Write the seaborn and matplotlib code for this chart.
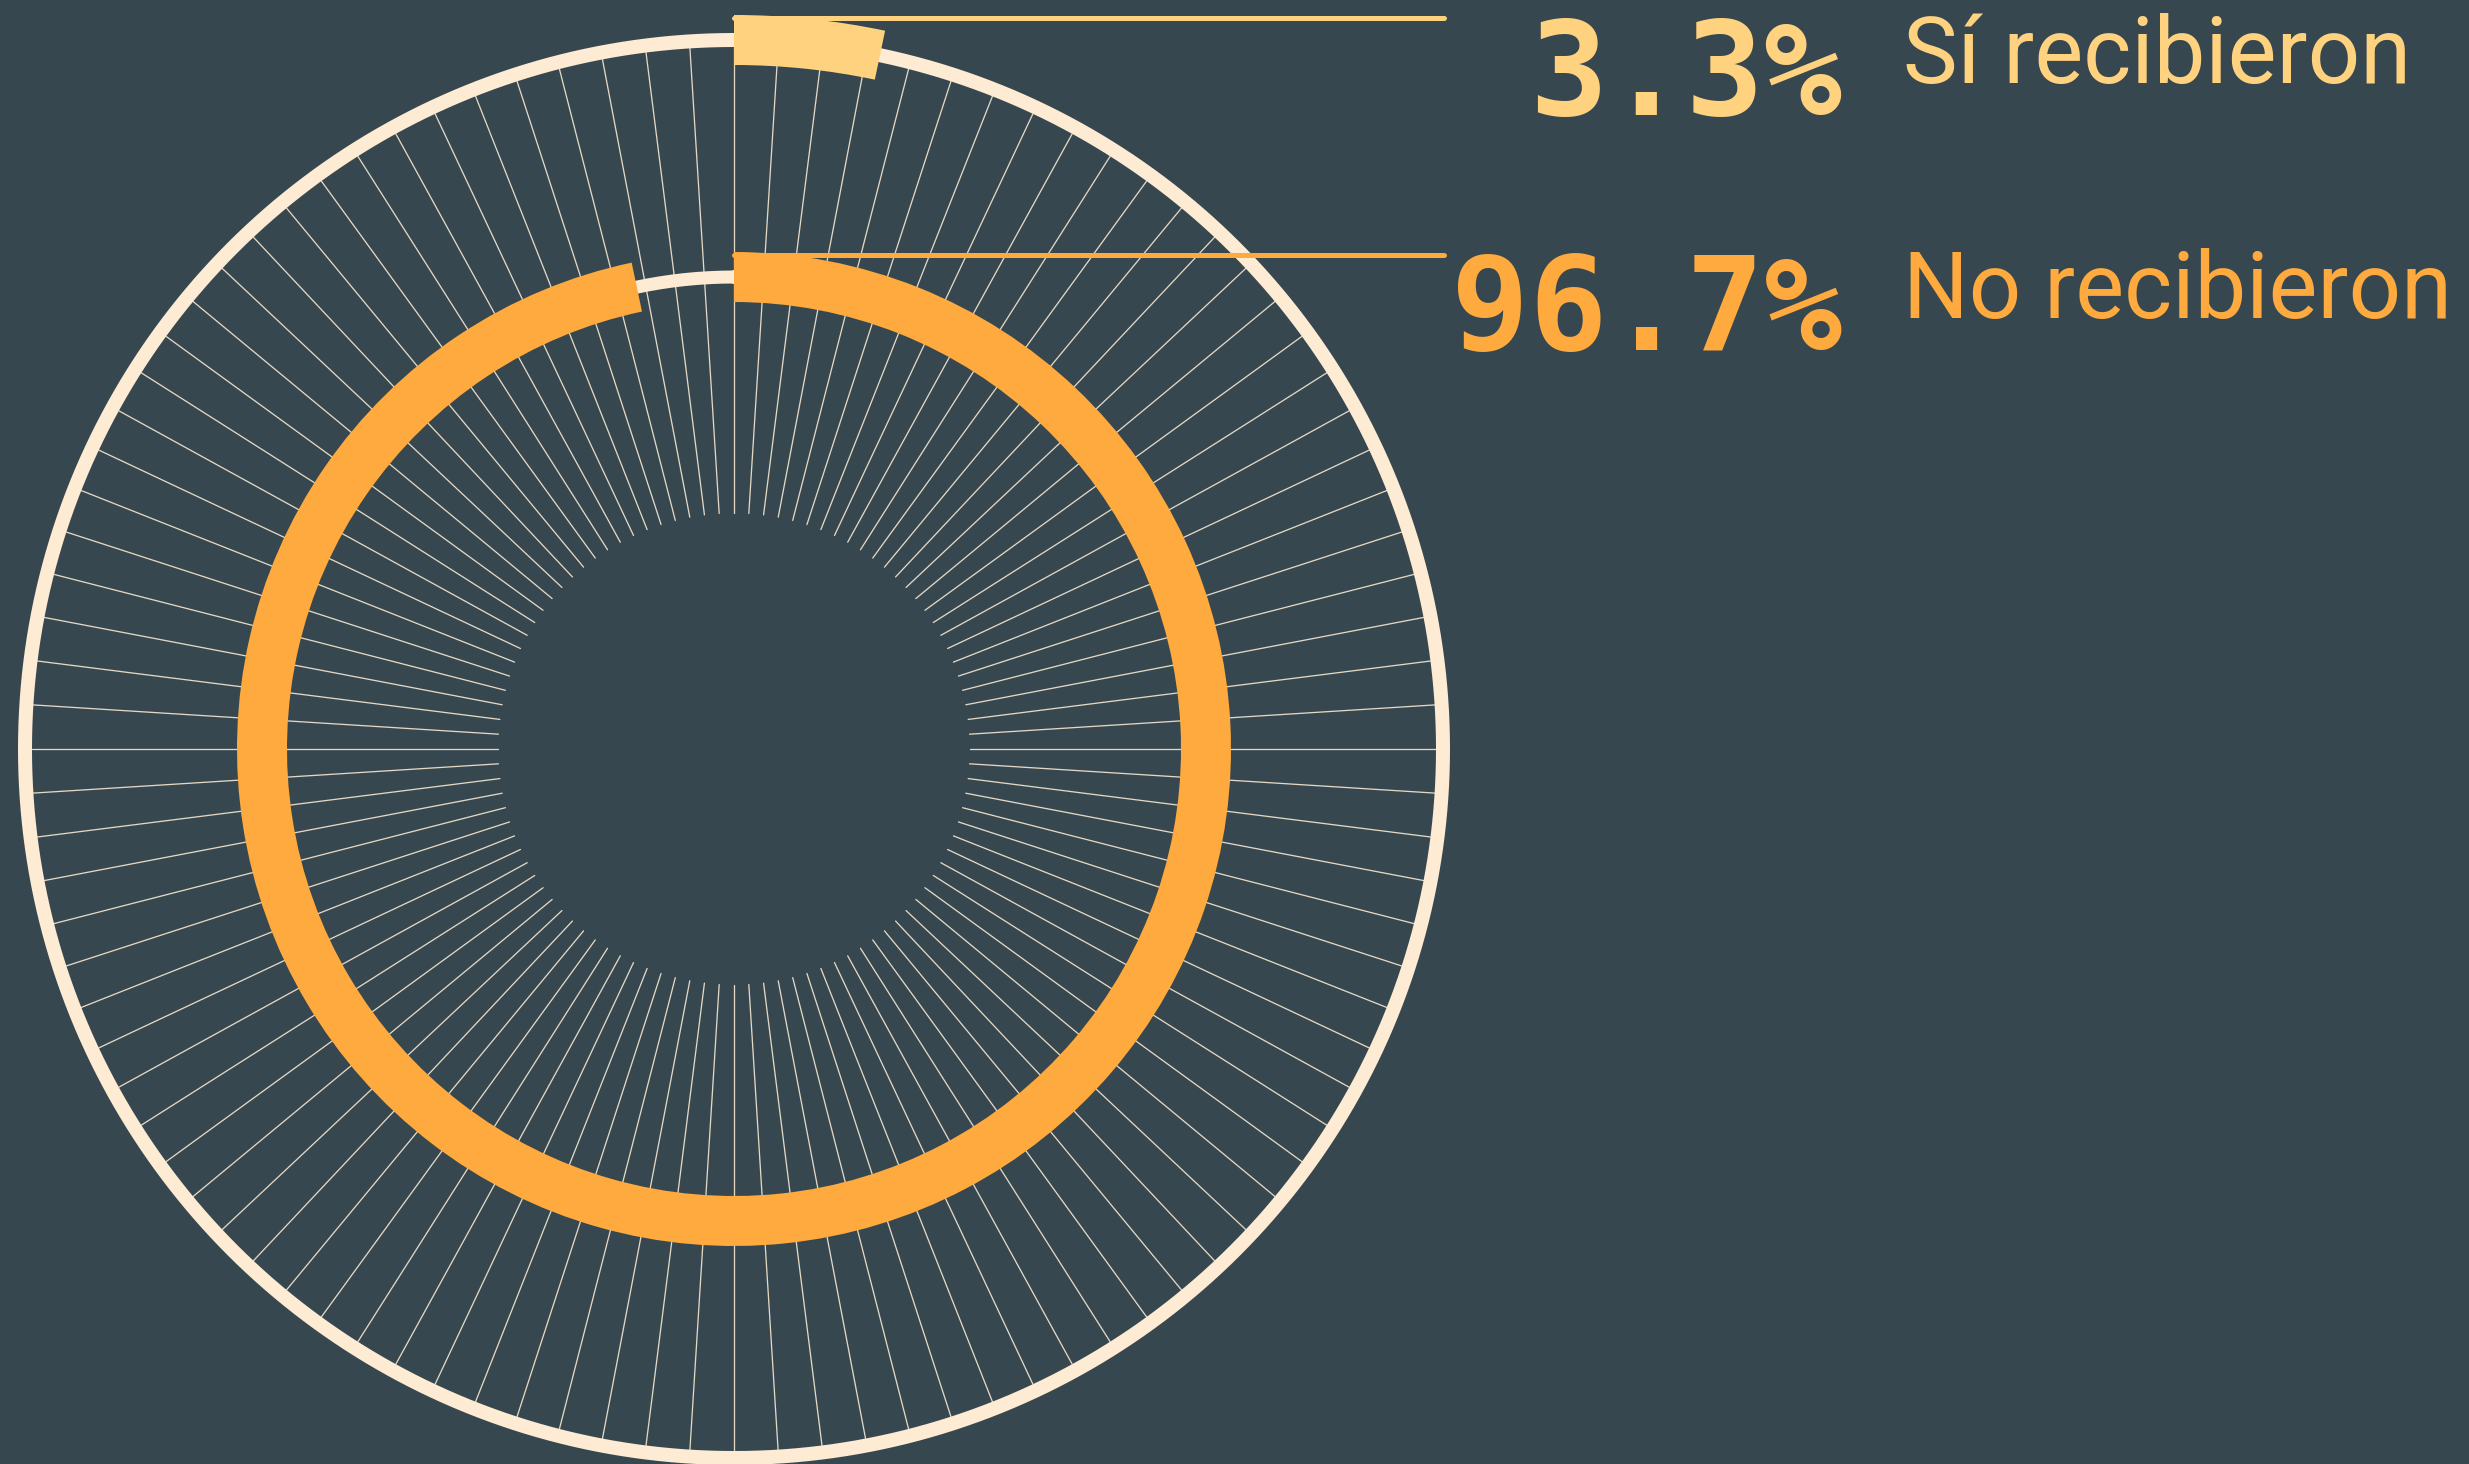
import numpy as np
import pandas as pd
import matplotlib
matplotlib.use("Agg")
import matplotlib.pyplot as plt
import seaborn as sns

# ---- data ----
categories = ["Sí recibieron", "No recibieron"]
values = [3.3, 96.7]
value_labels = ["3.3%", "96.7%"]
n_spokes = 100

# ---- style ----
BG = "#37474f"
YELLOW = "#ffd280"
ORANGE = "#feaa3e"
CREAM = "#fdebd3"
SPOKE = "#e4d8c4"

sns.set_theme(style="dark", rc={"figure.facecolor": BG, "axes.facecolor": BG})

W, H = 2469, 1464
fig = plt.figure(figsize=(W / 100, H / 100), dpi=100)
fig.patch.set_facecolor(BG)

cx, cy = 734, 749      # centre in px (from left / from top)
R = 745                # radial extent of the polar axes in px
ax = fig.add_axes([(cx - R) / W, (H - cy - R) / H, 2 * R / W, 2 * R / H],
                  projection="polar")
ax.set_theta_zero_location("N")
ax.set_theta_direction(-1)
ax.set_ylim(0, R)
ax.set_axis_off()

px = 72 / 100  # points per pixel

# spokes
theta_sp = np.arange(n_spokes) * 2 * np.pi / n_spokes
spokes = pd.DataFrame({
    "theta": np.repeat(theta_sp, 2),
    "r": np.tile([236, 702], n_spokes),
    "spoke": np.repeat(np.arange(n_spokes), 2),
})
sns.lineplot(data=spokes, x="theta", y="r", units="spoke", estimator=None,
             sort=False, color=SPOKE, lw=1.3 * px, ax=ax, zorder=1, legend=False)

# rings
ring_t = np.linspace(0, 2 * np.pi, 721)
rings = pd.DataFrame({
    "theta": np.concatenate([ring_t, ring_t]),
    "r": np.concatenate([np.full_like(ring_t, 709), np.full_like(ring_t, 472)]),
    "ring": ["outer"] * len(ring_t) + ["inner"] * len(ring_t),
})
sns.lineplot(data=rings[rings.ring == "outer"], x="theta", y="r", sort=False,
             color=CREAM, lw=14 * px, ax=ax, zorder=2, legend=False)
sns.lineplot(data=rings[rings.ring == "inner"], x="theta", y="r", sort=False,
             color=CREAM, lw=13 * px, ax=ax, zorder=2, legend=False)

# arcs from the data
share = np.array(values) / 100.0
ax.bar(0, 50, width=share[0] * 2 * np.pi, bottom=684, align="edge",
       color=YELLOW, linewidth=0, zorder=3)
ax.bar(0, 50, width=share[1] * 2 * np.pi, bottom=447, align="edge",
       color=ORANGE, linewidth=0, zorder=3)
ax.set_ylim(0, R)

# overlay for leader lines and text (pixel coordinates)
ov = fig.add_axes([0, 0, 1, 1])
ov.set_xlim(0, W)
ov.set_ylim(H, 0)
ov.axis("off")
ov.patch.set_alpha(0)

ov.plot([cx, 1444], [cy - 734 + 2.5] * 2, color=YELLOW, lw=5 * px,
        solid_capstyle="round")
ov.plot([cx, 1444], [cy - 497 + 2.5] * 2, color=ORANGE, lw=5 * px,
        solid_capstyle="round")

colors = [YELLOW, ORANGE]
num_base = [115, 350]
lab_base = [83, 318]
for i in range(2):
    ov.text(1842, num_base[i], value_labels[i], ha="right", va="baseline",
            fontsize=130 * px, family="DejaVu Sans Mono", fontweight="bold",
            color=colors[i])
    ov.text(1903, lab_base[i], categories[i], ha="left", va="baseline",
            fontsize=92 * px, family="Roboto", color=colors[i])

fig.savefig("out.png", dpi=100, facecolor=BG)
